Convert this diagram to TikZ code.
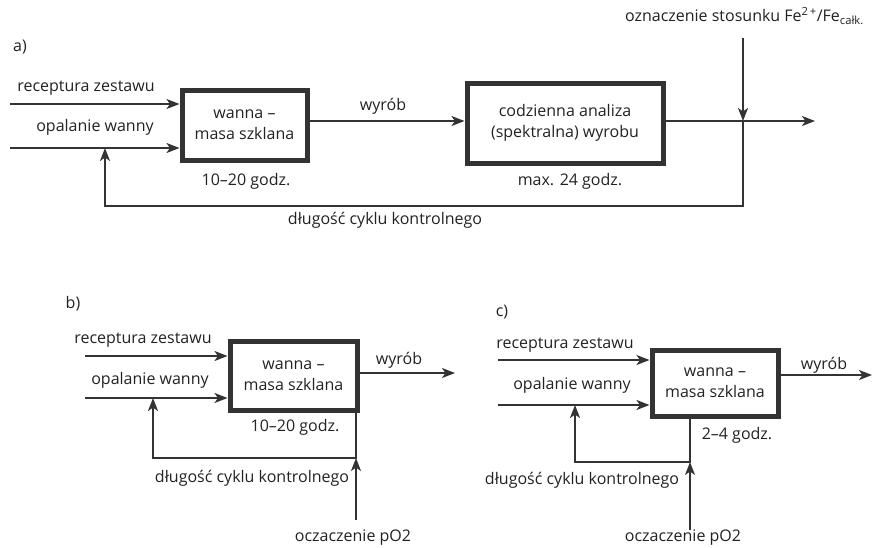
\documentclass[tikz,border=0pt]{standalone}
\usepackage{fontspec}
\setmainfont{Open Sans}
\usetikzlibrary{arrows.meta}
\definecolor{lc}{HTML}{333333}
\definecolor{tc}{HTML}{222222}
\newcommand{\lblfont}{\fontsize{16}{21}\selectfont}
\begin{document}
\begin{tikzpicture}[x=1pt,y=-1pt,
  blk/.style={draw=lc, line width=5pt, inner sep=0pt, align=center, text=tc, font=\lblfont},
  flow/.style={draw=lc, line width=2pt, -{Stealth[length=13pt,width=10pt,inset=3.5pt]}},
  fine/.style={draw=lc, line width=1.2pt, -{Stealth[length=13pt,width=10pt,inset=3.5pt]}},
  lbl/.style={text=tc, font=\lblfont, inner sep=0pt}]
\useasboundingbox (0,0) rectangle (872,547);
% ---------------- a)
\node[lbl] (la) at (20,47) {a)};
\node[blk, minimum width=125pt, minimum height=70pt] (A1) at (244.5,125) {wanna –\\masa szklana};
\node[blk, minimum width=196pt, minimum height=80pt] (A2) at (565,123) {codzienna analiza\\(spektralna) wyrobu};
\coordinate (a1s) at (10,104);
\coordinate (a2s) at (10,148);
\coordinate (afb) at (105,148);
\coordinate (aout) at (815,121);
\coordinate (aj) at (743,121);
\coordinate (atop) at (743,38);
\coordinate (ac1) at (743,206);
\coordinate (ac2) at (105,206);
\draw[flow] (a1s) -- (a1s -| A1.west);
\draw[flow] (a2s) -- (a2s -| A1.west);
\draw[flow] (A1.east |- 0,121) -- (A2.west |- 0,121);
\draw[flow] (A2.east |- 0,121) -- (aout);
\draw[flow] (atop) -- (aj);
\draw[flow] (aj) -- (ac1) -- (ac2) -- (afb);
\node[lbl] (ta1) at (86,88) {receptura zestawu};
\node[lbl] (ta2) at (95,127) {opalanie wanny};
\node[lbl] (ta3) at (383,106) {wyrób};
\node[lbl] (ta4) at (246,181) {10–20 godz.};
\node[lbl] (ta5) at (570,181) {max. 24 godz.};
\node[lbl] (ta6) at (385,220) {długość cyklu kontrolnego};
\node[lbl, anchor=east] (ta7) at (864,16) {oznaczenie stosunku Fe\textsuperscript{2\,+}/Fe\textsubscript{całk.}};
% ---------------- b)
\node[lbl] (lb) at (73,304) {b)};
\node[blk, minimum width=127pt, minimum height=69pt] (B1) at (293.5,375.5) {wanna –\\masa szklana};
\coordinate (b1s) at (85,356);
\coordinate (b2s) at (85,398);
\coordinate (bfb) at (153,398);
\coordinate (bout) at (455,373);
\coordinate (bc1) at (356,458);
\coordinate (bc2) at (153,458);
\coordinate (bbot) at (356,520);
\draw[flow] (b1s) -- (b1s -| B1.west);
\draw[flow] (b2s) -- (b2s -| B1.west);
\draw[flow] (B1.east |- 0,373) -- (bout);
\draw[flow] (bc1 |- B1.south) -- (bc1) -- (bc2) -- (bfb);
\draw[fine] (bbot) -- (bc1);
\node[lbl] (tb1) at (143,340) {receptura zestawu};
\node[lbl] (tb2) at (150,380) {opalanie wanny};
\node[lbl] (tb3) at (399,360) {wyrób};
\node[lbl] (tb4) at (295,427) {10–20 godz.};
\node[lbl] (tb5) at (252,478) {długość cyklu kontrolnego};
\node[lbl] (tb6) at (353,538) {oczaczenie pO2};
% ---------------- c)
\node[lbl] (lc) at (502,312) {c)};
\node[blk, minimum width=126pt, minimum height=66pt] (C1) at (715,383) {wanna –\\masa szklana};
\coordinate (c1s) at (498,360);
\coordinate (c2s) at (498,405);
\coordinate (cfb) at (575,405);
\coordinate (cout) at (872,375);
\coordinate (cb0) at (690,416);
\coordinate (cc1) at (690,462);
\coordinate (cc2) at (575,462);
\coordinate (cbot) at (690,530);
\draw[flow] (c1s) -- (c1s -| C1.west);
\draw[flow] (c2s) -- (c2s -| C1.west);
\draw[flow] (C1.east |- 0,375) -- (cout);
\draw[flow] (cb0 |- C1.south) -- (cc1) -- (cc2) -- (cfb);
\draw[fine] (cbot) -- (cc1);
\node[lbl] (tc1) at (565,345) {receptura zestawu};
\node[lbl] (tc2) at (572,385) {opalanie wanny};
\node[lbl] (tc3) at (824,365) {wyrób};
\node[lbl] (tc4) at (737,435) {2–4 godz.};
\node[lbl] (tc5) at (582,480) {długość cyklu kontrolnego};
\node[lbl] (tc6) at (683,538) {oczaczenie pO2};
\end{tikzpicture}
\end{document}
